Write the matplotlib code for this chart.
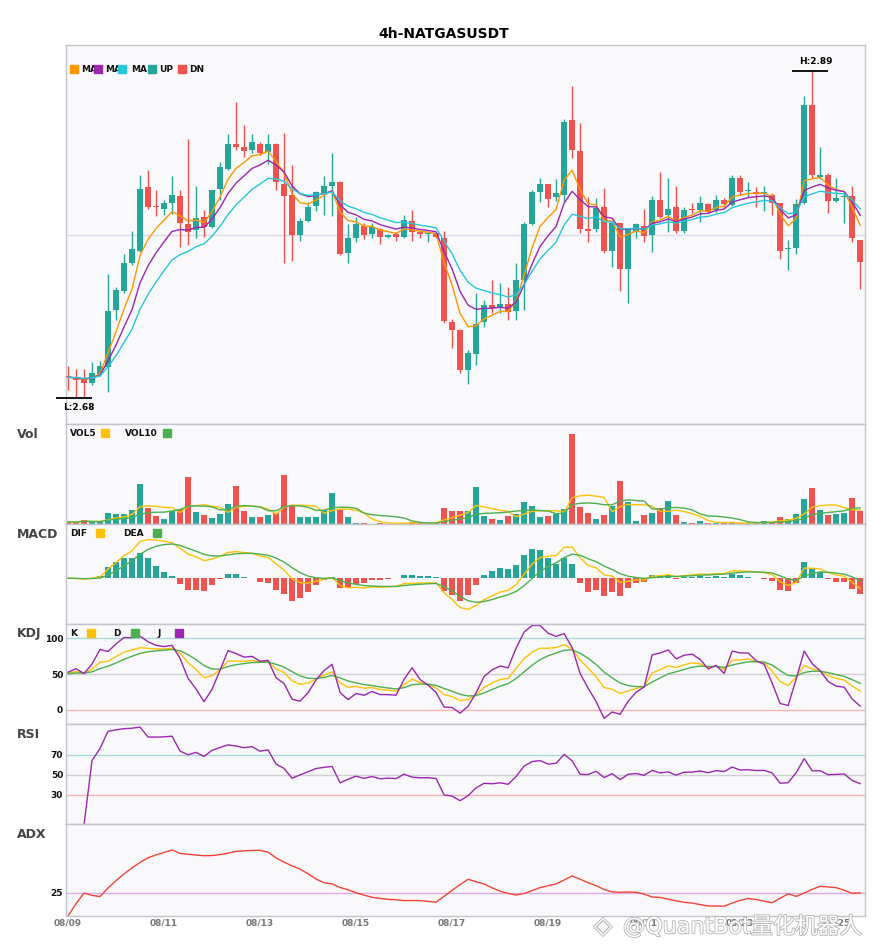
import numpy as np
import pandas as pd
import matplotlib
matplotlib.use('Agg')
import matplotlib.pyplot as plt
import matplotlib.patheffects as pe
from matplotlib.patches import Rectangle
from matplotlib.transforms import Bbox, TransformedBbox

symbol = '4h-NATGASUSDT'
dates = pd.date_range('2025-08-09 00:00', periods=100, freq='4h')

open_ = [2.6939, 2.6930, 2.6926, 2.6896, 2.6956, 2.7003, 2.7367, 2.7490, 2.7670, 2.7747,
         2.8154, 2.8034, 2.8017, 2.8051, 2.8098, 2.7918, 2.7880, 2.7965, 2.7897, 2.8141,
         2.8271, 2.8432, 2.8410, 2.8393, 2.8432, 2.8382, 2.8432, 2.8175, 2.8104, 2.7848,
         2.7939, 2.8034, 2.8119, 2.8162, 2.8188, 2.7730, 2.7827, 2.7907, 2.7854, 2.7884,
         2.7837, 2.7852, 2.7837, 2.7938, 2.7869, 2.7852, 2.7859, 2.7830, 2.7290, 2.7238,
         2.6982, 2.7082, 2.7291, 2.7397, 2.7377, 2.7405, 2.7362, 2.7559, 2.7919, 2.8126,
         2.8173, 2.8090, 2.8104, 2.8586, 2.8389, 2.7884, 2.7886, 2.8029, 2.7747, 2.7923,
         2.7632, 2.7869, 2.7905, 2.7848, 2.8072, 2.7976, 2.8025, 2.7875, 2.8015, 2.8008,
         2.8047, 2.8008, 2.8072, 2.8040, 2.8212, 2.8132, 2.8126, 2.8115, 2.8104, 2.8051,
         2.7756, 2.7762, 2.8051, 2.8682, 2.8222, 2.8233, 2.8068, 2.8093, 2.8098, 2.7816]
high = [2.7007, 2.6990, 2.6990, 2.7035, 2.7041, 2.7597, 2.7516, 2.7726, 2.7875, 2.8233,
        2.8265, 2.8136, 2.8072, 2.8226, 2.8136, 2.8462, 2.8162, 2.8008, 2.8138, 2.8318,
        2.8496, 2.8703, 2.8553, 2.8494, 2.8446, 2.8496, 2.8440, 2.8500, 2.8297, 2.7959,
        2.8061, 2.8128, 2.8226, 2.8376, 2.8194, 2.7918, 2.7965, 2.7923, 2.7923, 2.7893,
        2.7854, 2.7865, 2.7976, 2.8008, 2.7876, 2.7869, 2.7869, 2.7875, 2.7307, 2.7243,
        2.7110, 2.7474, 2.7431, 2.7559, 2.7538, 2.7516, 2.7670, 2.7930, 2.8135, 2.8212,
        2.8175, 2.8205, 2.8590, 2.8804, 2.8568, 2.8093, 2.8087, 2.8147, 2.7944, 2.7925,
        2.7890, 2.7927, 2.8013, 2.8098, 2.8254, 2.8215, 2.8162, 2.8025, 2.8051, 2.8098,
        2.8050, 2.8104, 2.8085, 2.8233, 2.8233, 2.8186, 2.8154, 2.8162, 2.8115, 2.8055,
        2.7816, 2.8077, 2.8740, 2.8900, 2.8410, 2.8247, 2.8212, 2.8120, 2.8162, 2.7816]
low = [2.6853, 2.6800, 2.6810, 2.6885, 2.6943, 2.6842, 2.7302, 2.7474, 2.7655, 2.7740,
       2.8013, 2.7970, 2.7976, 2.7982, 2.7773, 2.7784, 2.7827, 2.7833, 2.7890, 2.8072,
       2.8265, 2.8393, 2.8350, 2.8372, 2.8361, 2.8303, 2.8136, 2.7670, 2.7683, 2.7811,
       2.7933, 2.8004, 2.7976, 2.7970, 2.7719, 2.7670, 2.7805, 2.7820, 2.7827, 2.7790,
       2.7827, 2.7809, 2.7830, 2.7811, 2.7827, 2.7805, 2.7830, 2.7285, 2.7125, 2.6964,
       2.6892, 2.7014, 2.7256, 2.7345, 2.7345, 2.7302, 2.7302, 2.7367, 2.7915, 2.8061,
       2.8025, 2.8068, 2.8061, 2.8340, 2.7862, 2.7805, 2.7869, 2.7734, 2.7644, 2.7490,
       2.7413, 2.7827, 2.7805, 2.7741, 2.7955, 2.7869, 2.7862, 2.7862, 2.7987, 2.7933,
       2.7987, 2.7997, 2.8029, 2.8035, 2.8104, 2.8093, 2.8025, 2.8004, 2.7976, 2.7692,
       2.7623, 2.7726, 2.8047, 2.8212, 2.8208, 2.7987, 2.8061, 2.7923, 2.7805, 2.7499]
close = [2.6935, 2.6920, 2.6896, 2.6960, 2.7007, 2.7362, 2.7495, 2.7666, 2.7758, 2.8143,
         2.8029, 2.8028, 2.8051, 2.8104, 2.7923, 2.7869, 2.7957, 2.7897, 2.8136, 2.8282,
         2.8432, 2.8414, 2.8389, 2.8442, 2.8376, 2.8432, 2.8190, 2.8098, 2.7848, 2.7938,
         2.8029, 2.8124, 2.8162, 2.8188, 2.7726, 2.7828, 2.7918, 2.7848, 2.7901, 2.7833,
         2.7848, 2.7837, 2.7944, 2.7869, 2.7852, 2.7855, 2.7837, 2.7298, 2.7238, 2.6982,
         2.7089, 2.7277, 2.7399, 2.7381, 2.7405, 2.7356, 2.7559, 2.7919, 2.8126, 2.8173,
         2.8077, 2.8115, 2.8575, 2.8393, 2.7886, 2.7873, 2.8023, 2.7745, 2.7923, 2.7632,
         2.7884, 2.7918, 2.7841, 2.8072, 2.7965, 2.8015, 2.7875, 2.8008, 2.8008, 2.8055,
         2.7997, 2.8072, 2.8047, 2.8212, 2.8126, 2.8136, 2.8115, 2.8118, 2.8055, 2.7747,
         2.7762, 2.8047, 2.8682, 2.8233, 2.8233, 2.8068, 2.8083, 2.8098, 2.7827, 2.7676]
volume = [2, 2, 4.3, 2, 2, 11, 10.3, 10.3, 14.3, 40.3,
          16, 7.7, 5, 13.3, 15.3, 46.7, 12, 9.3, 6, 10.3,
          20.3, 38.3, 13.3, 7.3, 7.3, 9.3, 11, 49.3, 17.7, 7.3,
          7.3, 7.3, 14.3, 31.3, 14.3, 7.3, 1.3, 1.3, 0.5, 1.3,
          0.5, 0.5, 1.3, 2, 1, 0.7, 0.7, 16.3, 13.3, 13.3,
          13.3, 37.3, 8.3, 5.3, 4.3, 8.3, 10.3, 22.3, 18.3, 7.3,
          8.3, 10.3, 15.3, 90.3, 17.3, 11.3, 5.3, 9.3, 18.3, 43.3,
          22.3, 3.3, 9.3, 11.3, 16.3, 23.3, 9.3, 2.3, 0.7, 3.3,
          1.3, 1.3, 0.7, 0.7, 0.7, 1.3, 2, 3.3, 2, 7.3,
          5.3, 10.3, 25.3, 36.3, 14.3, 9.3, 10.3, 11.3, 26.3, 13.3]

UP = '#26A69A'
DN = '#EF5350'
C_MA5, C_MA8, C_MA13 = '#FF9800', '#9C27B0', '#26C6DA'
AMBER, GREEN, PURPLE = '#FFC107', '#4CAF50', '#9C27B0'
BG = '#F9F9FB'

o = pd.Series(open_)
h = pd.Series(high)
l = pd.Series(low)
c = pd.Series(close)
v = pd.Series(volume)
x = np.arange(len(c))


def ema(s, span):
    return s.ewm(span=span, adjust=False).mean()


# moving averages on price
ma5, ma8, ma13 = ema(c, 5), ema(c, 8), ema(c, 13)
vol5 = v.rolling(5, min_periods=1).mean()
vol10 = v.rolling(10, min_periods=1).mean()

# macd
dif = ema(c, 6) - ema(c, 13)
dea = ema(dif, 5)
hist = 2 * (dif - dea)

# kdj
llv = l.rolling(9, min_periods=1).min()
hhv = h.rolling(9, min_periods=1).max()
rsv = (c - llv) / (hhv - llv) * 100
k_vals, d_vals = [], []
k_prev, d_prev = 50.0, 50.0
for r in rsv:
    k_prev = 2 / 3 * k_prev + r / 3
    d_prev = 2 / 3 * d_prev + k_prev / 3
    k_vals.append(k_prev)
    d_vals.append(d_prev)
kk = np.array(k_vals)
dd = np.array(d_vals)
jj = 3 * kk - 2 * dd

# rsi
delta = c.diff()
gain = delta.clip(lower=0).ewm(alpha=1 / 14, adjust=True).mean()
loss = (-delta.clip(upper=0)).ewm(alpha=1 / 14, adjust=True).mean()
rsi = 100 - 100 / (1 + gain / loss)

# adx
pc = c.shift(1)
tr = pd.concat([h - l, (h - pc).abs(), (l - pc).abs()], axis=1).max(axis=1)
up_move = h.diff()
dn_move = -l.diff()
pdm = pd.Series(np.where((up_move > dn_move) & (up_move > 0), up_move, 0.0))
mdm = pd.Series(np.where((dn_move > up_move) & (dn_move > 0), dn_move, 0.0))
atr = ema(tr, 14)
pdi = 100 * ema(pdm, 14) / atr
mdi = 100 * ema(mdm, 14) / atr
dx = (100 * (pdi - mdi).abs() / (pdi + mdi)).fillna(0)
adx = ema(dx, 14)

# ---- layout (pixel based) ----
W, H = 885, 950
fig = plt.figure(figsize=(W / 100, H / 100), dpi=100)
LEFT, RIGHT = 66, 865
AW = RIGHT - LEFT


def add_ax(top, bottom):
    ax = fig.add_axes([LEFT / W, 1 - bottom / H, AW / W, (bottom - top) / H])
    ax.set_facecolor(BG)
    for s in ax.spines.values():
        s.set_color('#C4C4CC')
        s.set_linewidth(1)
    ax.set_xlim(-0.25, 99.6)
    ax.set_xticks([])
    ax.set_yticks([])
    ax.tick_params(length=0)
    return ax


panels = [(45, 424), (424, 524), (524, 624), (624, 724), (724, 824), (824, 916)]
ax_main, ax_vol, ax_macd, ax_kdj, ax_rsi, ax_adx = [add_ax(t, b) for t, b in panels]


def fx(px):
    return (px - LEFT) / AW


def sub_legend(ax, top, height, items, clip=False):
    yc = 1 - 9 / height
    if ax is ax_main:
        yc = 1 - 24 / height
    for i, (label, color, tx, sx) in enumerate(items):
        ax.add_patch(Rectangle((fx(sx), yc - 4 / height), 8 / AW, 8 / height,
                               transform=ax.transAxes, color=color, zorder=7))
        t = ax.text(fx(tx), yc, label, transform=ax.transAxes, ha='left', va='center',
                    fontsize=6.5, fontweight='bold', color='#111', zorder=6)
        if clip and i + 1 < len(items):
            nx = items[i + 1][3]
            t.set_clip_box(TransformedBbox(Bbox([[fx(tx) - 0.01, 0], [fx(nx), 1]]), ax.transAxes))
            t.set_clip_on(True)


# ---- main candles ----
ax_main.set_ylim(2.6635, 2.9067)
colors = [UP if cl >= op else DN for op, cl in zip(open_, close)]
ax_main.vlines(x, l, h, colors=colors, linewidth=1, zorder=2)
body = np.maximum(np.abs(c - o), 0.0006)
ax_main.bar(x, body, bottom=np.minimum(o, c), width=0.74, color=colors, zorder=3)
ax_main.plot(x, ma5, color=C_MA5, lw=1.0, zorder=4)
ax_main.plot(x, ma8, color=C_MA8, lw=1.0, zorder=4)
ax_main.plot(x, ma13, color=C_MA13, lw=1.0, zorder=4)
ax_main.axhline((h.max() + l.min()) / 2, color='#DAD8E8', lw=1, zorder=1)

hi_i, lo_i = int(h.idxmax()), int(l.idxmin())
ax_main.hlines(h[hi_i], hi_i - 2.5, hi_i + 2.0, color='black', lw=1.3, clip_on=False, zorder=5)
ax_main.text(hi_i + 0.4, h[hi_i] + 0.003, f'H:{h[hi_i]:.2f}', ha='center', va='bottom',
             fontsize=6.5, fontweight='bold', zorder=5)
ax_main.hlines(l[lo_i], lo_i - 2.5, lo_i + 2.0, color='black', lw=1.3, clip_on=False, zorder=5)
ax_main.text(lo_i + 0.4, l[lo_i] - 0.003, f'L:{l[lo_i]:.2f}', ha='center', va='top',
             fontsize=6.5, fontweight='bold', zorder=5)
sub_legend(ax_main, 45, 379, [('MA5', C_MA5, 81, 70), ('MA8', C_MA8, 105, 94.3),
                              ('MA13', C_MA13, 131, 118.3), ('UP', UP, 159, 147.7),
                              ('DN', DN, 189, 177.7)], clip=True)

# ---- volume ----
ax_vol.set_ylim(0, 100.3)
ax_vol.bar(x, v, width=0.74, color=colors, zorder=2)
ax_vol.plot(x, vol5, color=AMBER, lw=1.0, zorder=3)
ax_vol.plot(x, vol10, color=GREEN, lw=1.0, zorder=3)
sub_legend(ax_vol, 424, 100, [('VOL5', AMBER, 70, 101), ('VOL10', GREEN, 125, 163)])

# ---- macd ----
ax_macd.set_ylim(-0.0344, 0.0408)
ax_macd.bar(x, hist, width=0.74, color=[UP if val >= 0 else DN for val in hist], zorder=2)
ax_macd.plot(x, dif, color=AMBER, lw=1.0, zorder=3)
ax_macd.plot(x, dea, color=GREEN, lw=1.0, zorder=3)
sub_legend(ax_macd, 524, 100, [('DIF', AMBER, 70, 96), ('DEA', GREEN, 123, 153)])

# ---- kdj ----
ax_kdj.set_ylim(-20, 120)
ax_kdj.axhline(100, color='#A8D8D8', lw=1, zorder=1)
ax_kdj.axhline(50, color='#D0D0D4', lw=1, zorder=1)
ax_kdj.axhline(0, color='#F7B2B2', lw=1, zorder=1)
ax_kdj.plot(x, kk, color=AMBER, lw=1.0)
ax_kdj.plot(x, dd, color=GREEN, lw=1.0)
ax_kdj.plot(x, jj, color=PURPLE, lw=1.0)
ax_kdj.set_yticks([0, 50, 100])
sub_legend(ax_kdj, 624, 100, [('K', AMBER, 70, 87), ('D', GREEN, 113, 131), ('J', PURPLE, 157, 175)])

# ---- rsi ----
ax_rsi.set_ylim(1, 101)
ax_rsi.axhline(70, color='#A8D8D8', lw=1, zorder=1)
ax_rsi.axhline(50, color='#D0D0D4', lw=1, zorder=1)
ax_rsi.axhline(30, color='#F7B2B2', lw=1, zorder=1)
ax_rsi.plot(x, rsi, color=PURPLE, lw=1.0)
ax_rsi.set_yticks([30, 50, 70])

# ---- adx ----
ax_adx.set_ylim(0, 100)
ax_adx.axhline(25, color='#DDA8E6', lw=1, zorder=1)
ax_adx.plot(x, adx, color='#F44336', lw=1.0)
ax_adx.set_yticks([25])

for ax in (ax_kdj, ax_rsi, ax_adx):
    ax.tick_params(axis='y', length=0, pad=2, labelsize=6.5, labelcolor='#111')
    for lb in ax.get_yticklabels():
        lb.set_fontweight('bold')

tick_pos = [i for i, d in enumerate(dates) if d.hour == 0 and (d.day - dates[0].day) % 2 == 0]
ax_adx.set_xticks(tick_pos)
ax_adx.set_xticklabels([dates[i].strftime('%m/%d') for i in tick_pos])
ax_adx.tick_params(axis='x', length=0, pad=2, labelsize=6.5, labelcolor='#777777')
for lb in ax_adx.get_xticklabels():
    lb.set_fontweight('bold')

# ---- texts ----
fig.text(443.5 / W, 1 - 34 / H, symbol, ha='center', va='center', fontsize=10, fontweight='bold')
for name, (top, _) in zip(['Vol', 'MACD', 'KDJ', 'RSI', 'ADX'], panels[1:]):
    fig.text(17 / W, 1 - (top + 10) / H, name, ha='left', va='center', fontsize=9,
             fontweight='bold', color='#444444')

wm = pe.withStroke(linewidth=1.3, foreground='#B8B8B8')
fig.text(603 / W, 1 - 926 / H, '◈', ha='center', va='center', fontsize=17, color='white',
         path_effects=[wm], zorder=10)
fig.text(623 / W, 1 - 926 / H, '@QuantBot量化机器人', ha='left', va='center', fontsize=16,
         color='white', family=['DejaVu Sans', 'Noto Sans CJK SC'], path_effects=[wm], zorder=10)

fig.savefig('out.png', dpi=100)
